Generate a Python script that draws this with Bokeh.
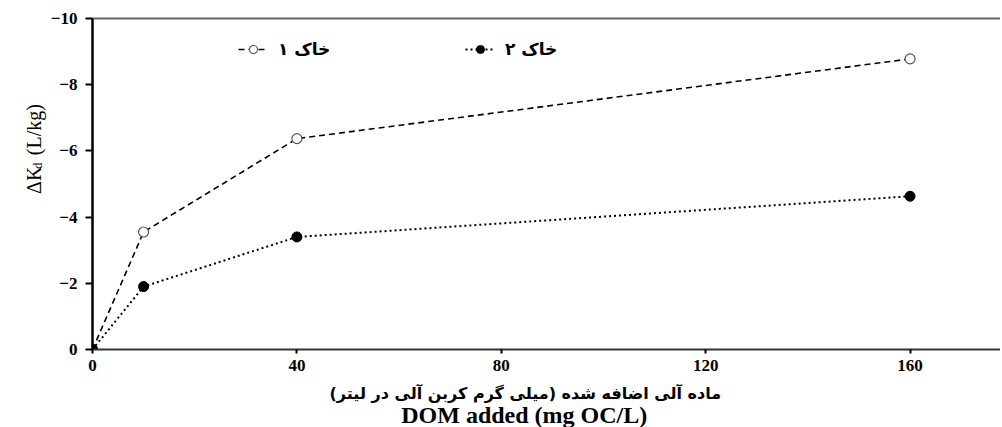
import math
from bokeh.plotting import figure
from bokeh.models import (Range1d, FixedTicker, LinearAxis, Label, Legend, LegendItem,
                          ColumnDataSource)
from bokeh.embed import file_html
from bokeh.resources import INLINE

# ---- data ----
dom_added = [0, 10, 40, 160]
soil1 = [0, -3.55, -6.37, -8.78]
soil2 = [0, -1.90, -3.40, -4.63]
x_ticks = [0, 40, 80, 120, 160]
y_ticks = [0, -2, -4, -6, -8, -10]
series_names = ["خاک ۱", "خاک ۲"]
xlabel_fa = "ماده آلی اضافه شده (میلی گرم کربن آلی در لیتر)"
xlabel_en = "DOM added (mg OC/L)"

SERIF = "Liberation Serif"
ARABIC = "DejaVu Sans"

p = figure(width=1000, height=427, output_backend="svg", toolbar_location=None,
           x_range=Range1d(0, 177.7), y_range=Range1d(0, -10),
           min_border_left=92, min_border_right=0, min_border_top=18, min_border_bottom=78)
p.outline_line_color = None
p.grid.visible = False
p.background_fill_color = "white"
p.border_fill_color = "white"

# axes
p.xaxis.ticker = FixedTicker(ticks=x_ticks)
p.yaxis.ticker = FixedTicker(ticks=y_ticks)
for ax in (p.xaxis[0], p.yaxis[0]):
    ax.minor_tick_line_color = None
    ax.major_tick_in = 0
    ax.major_label_text_font = SERIF
    ax.major_label_text_font_style = "bold"
    ax.major_label_text_font_size = "17px"
    ax.major_label_text_color = "black"
    ax.major_tick_line_width = 2
    ax.major_tick_line_color = "black"
p.yaxis.axis_line_width = 2.5
p.yaxis.axis_line_color = "black"
p.yaxis.major_tick_out = 7
p.yaxis.major_label_standoff = 8
p.xaxis.axis_line_width = 2
p.xaxis.axis_line_color = "#333333"
p.xaxis.major_tick_out = 4
p.xaxis.major_label_standoff = 6

top = LinearAxis(ticker=FixedTicker(ticks=[]), axis_line_width=2, axis_line_color="#666666",
                 major_label_text_font_size="0px", major_tick_out=0, major_tick_in=0,
                 minor_tick_line_color=None, major_label_standoff=0)
p.add_layout(top, "above")

# series
src1 = ColumnDataSource(dict(x=dom_added, y=soil1))
src2 = ColumnDataSource(dict(x=dom_added, y=soil2))
l1 = p.line("x", "y", source=src1, line_color="black", line_width=1.6, line_dash="6 4")
l2 = p.line("x", "y", source=src2, line_color="black", line_width=2, line_dash="2 3")
s1 = p.scatter("x", "y", source=src1, size=10, fill_color="white", line_color="#555555", line_width=1.2)
s2 = p.scatter("x", "y", source=src2, size=10, fill_color="black", line_color="black")

legend = Legend(items=[LegendItem(label=series_names[0], renderers=[l1, s1]),
                       LegendItem(label=series_names[1], renderers=[l2, s2])],
                orientation="horizontal", location=(146, 290),
                glyph_width=30, glyph_height=20, label_standoff=10,
                label_width=55, spacing=132, padding=0, margin=0,
                border_line_color=None, background_fill_alpha=0,
                label_text_font=ARABIC, label_text_font_style="bold",
                label_text_font_size="17px", label_text_color="black")
p.add_layout(legend)

# y axis label: ΔK_d (L/kg)
p.add_layout(Label(x=-11.5, y=-4.7, text="ΔK", angle=math.pi / 2, text_align="left",
                   text_baseline="alphabetic", text_font=SERIF, text_font_size="20px",
                   text_color="black"), "left")
p.add_layout(Label(x=-10.8, y=-5.45, text="d", angle=math.pi / 2, text_align="left",
                   text_baseline="alphabetic", text_font=SERIF, text_font_size="13px",
                   text_color="black"), "above")
p.add_layout(Label(x=-11.5, y=-5.87, text="(L/kg)", angle=math.pi / 2, text_align="left",
                   text_baseline="alphabetic", text_font=SERIF, text_font_size="20px",
                   text_color="black"), "left")

# x axis labels
p.add_layout(Label(x=84.7, y=1.33, text=xlabel_fa, text_align="center", text_baseline="middle",
                   text_font=ARABIC, text_font_style="bold", text_font_size="16px",
                   text_color="black"), "below")
p.add_layout(Label(x=84.5, y=2.38, text=xlabel_en, text_align="center", text_baseline="bottom",
                   text_font=SERIF, text_font_style="bold", text_font_size="24px",
                   text_color="black"), "below")

open("out.html", "w").write(file_html(p, INLINE))
